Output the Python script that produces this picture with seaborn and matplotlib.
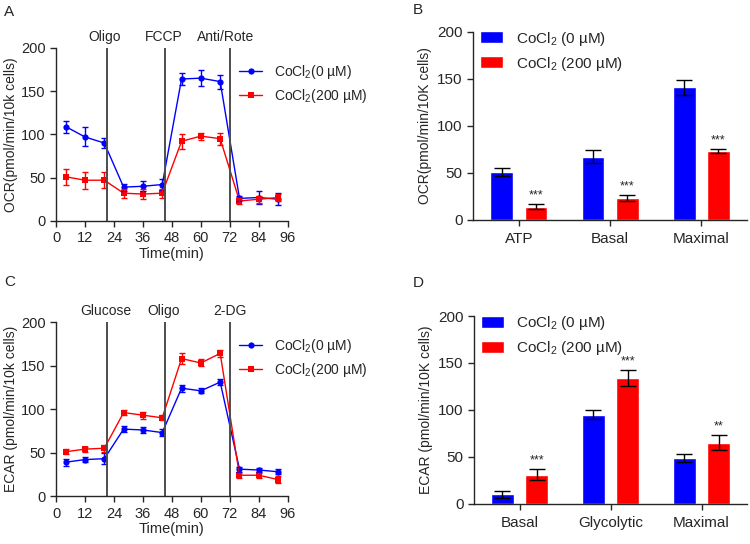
import numpy as np
import pandas as pd
import matplotlib
matplotlib.use("Agg")
import matplotlib.pyplot as plt
import seaborn as sns

# --- data ---
time_min = [4, 12, 20, 28, 36, 44, 52, 60, 68, 76, 84, 92]

ocr_ctrl = [109, 97, 90, 39, 40, 42, 164, 165, 161, 26, 27, 25]
ocr_ctrl_err = [7, 11, 6, 4, 6, 6, 7, 9, 8, 3, 7, 7]
ocr_cocl = [51, 47, 47, 32, 31, 32, 92, 98, 95, 23, 25, 27]
ocr_cocl_err = [9, 10, 9, 5, 6, 5, 9, 4, 7, 4, 4, 4]

ecar_ctrl = [39, 42, 43, 77, 76, 73, 124, 121, 131, 31, 30, 28]
ecar_ctrl_err = [4, 3, 6, 3, 3, 4, 4, 3, 3, 3, 2, 3]
ecar_cocl = [51, 54, 55, 96, 93, 90, 158, 153, 164, 24, 24, 19]
ecar_cocl_err = [3, 3, 4, 3, 4, 3, 6, 4, 4, 3, 3, 4]

ocr_events = [21, 45, 72]
ocr_event_names = ["Oligo", "FCCP", "Anti/Rote"]
ocr_name_x = [20.3, 44.5, 70.3]
ecar_events = [21, 45, 72]
ecar_event_names = ["Glucose", "Oligo", "2-DG"]
ecar_name_x = [20.7, 44.7, 72]

ocr_bar_cats = ["ATP", "Basal", "Maximal"]
ocr_bar_ctrl = [51, 67, 141]
ocr_bar_ctrl_err = [4, 7, 8]
ocr_bar_cocl = [14, 23, 73]
ocr_bar_cocl_err = [3, 3, 2]
ocr_bar_stars = ["***", "***", "***"]

ecar_bar_cats = ["Basal", "Glycolytic", "Maximal"]
ecar_bar_ctrl = [10, 95, 49]
ecar_bar_ctrl_err = [4, 5, 4]
ecar_bar_cocl = [31, 134, 65]
ecar_bar_cocl_err = [6, 8, 8]
ecar_bar_stars = ["***", "***", "**"]

BLUE = "#0000ff"
RED = "#ff0000"

sns.set_style("ticks")
plt.rcParams["font.family"] = ["Liberation Sans", "DejaVu Sans"]
plt.rcParams["mathtext.default"] = "regular"
plt.rcParams["axes.linewidth"] = 1.0
plt.rcParams["xtick.major.width"] = 1.0
plt.rcParams["ytick.major.width"] = 1.0
plt.rcParams["xtick.major.size"] = 4
plt.rcParams["ytick.major.size"] = 4

fig = plt.figure(figsize=(7.5, 5.44), dpi=100)

ax_a = fig.add_axes([0.0747, 0.594, 0.309, 0.318])
ax_b = fig.add_axes([0.631, 0.596, 0.365, 0.346])
ax_c = fig.add_axes([0.0747, 0.088, 0.309, 0.32])
ax_d = fig.add_axes([0.632, 0.074, 0.364, 0.345])


def line_panel(ax, ctrl, ctrl_err, cocl, cocl_err, events, names, name_x, ylabel):
    lab0 = "CoCl$_2$(0 µM)"
    lab1 = "CoCl$_2$(200 µM)"
    df = pd.DataFrame({
        "time": time_min * 2,
        "val": ctrl + cocl,
        "cond": [lab0] * len(time_min) + [lab1] * len(time_min),
    })
    sns.lineplot(data=df, x="time", y="val", hue="cond", style="cond",
                 markers={lab0: "o", lab1: "s"}, dashes=False,
                 palette={lab0: BLUE, lab1: RED}, markersize=4.5,
                 markeredgewidth=0, linewidth=1.0, ax=ax)
    ax.errorbar(time_min, ctrl, yerr=ctrl_err, fmt="none", ecolor=BLUE,
                elinewidth=1.0, capsize=2.3, capthick=1.0)
    ax.errorbar(time_min, cocl, yerr=cocl_err, fmt="none", ecolor=RED,
                elinewidth=1.0, capsize=2.3, capthick=1.0)
    for x in events:
        ax.axvline(x, color="#4d4d4d", lw=1.4)
    for x, name in zip(name_x, names):
        ax.text(x, 213, name, ha="center", va="center", fontsize=10)
    ax.set_xlim(0, 96)
    ax.set_ylim(0, 200)
    ax.set_xticks(np.arange(0, 97, 12))
    ax.set_yticks([0, 50, 100, 150, 200])
    ax.tick_params(labelsize=10.5, direction="out")
    ax.set_xlabel("Time(min)", fontsize=10.5, labelpad=1)
    ax.set_ylabel(ylabel, fontsize=10, labelpad=2)
    sns.despine(ax=ax)
    ax.legend(loc="upper left", bbox_to_anchor=(0.79, 0.915), frameon=False,
              fontsize=10, handlelength=1.65, handletextpad=0.85,
              labelspacing=0.45, borderaxespad=0, borderpad=0)


def bar_panel(ax, cats, ctrl, ctrl_err, cocl, cocl_err, stars, ylabel):
    lab0 = "CoCl$_2$ (0 µM)"
    lab1 = "CoCl$_2$ (200 µM)"
    df = pd.DataFrame({
        "cat": cats * 2,
        "val": ctrl + cocl,
        "cond": [lab0] * len(cats) + [lab1] * len(cats),
    })
    sns.barplot(data=df, x="cat", y="val", hue="cond", palette=[BLUE, RED],
                errorbar=None, width=0.75, gap=1 / 3, saturation=1, ax=ax)
    bars = ax.patches[:2 * len(cats)]
    xs = [b.get_x() + b.get_width() / 2 for b in bars]
    vals = ctrl + cocl
    errs = ctrl_err + cocl_err
    ax.errorbar(xs, vals, yerr=errs, fmt="none", ecolor="black",
                elinewidth=1.0, capsize=5.5, capthick=1.0)
    for i, s in enumerate(stars):
        j = len(cats) + i
        ax.text(xs[j], vals[j] + errs[j] + 3, s, ha="center", va="bottom",
                fontsize=9)
    ax.set_xlim(-0.5, 2.5)
    ax.set_ylim(0, 200)
    ax.set_yticks([0, 50, 100, 150, 200])
    ax.tick_params(labelsize=11, direction="out")
    ax.tick_params(axis="x", pad=5)
    ax.set_xlabel("")
    ax.set_ylabel(ylabel, fontsize=10, labelpad=4)
    sns.despine(ax=ax)
    ax.legend(loc="upper left", bbox_to_anchor=(0.026, 1.01), frameon=False,
              fontsize=11, handlelength=1.5, handleheight=0.85,
              handletextpad=0.8, labelspacing=0.45, borderaxespad=0,
              borderpad=0)


line_panel(ax_a, ocr_ctrl, ocr_ctrl_err, ocr_cocl, ocr_cocl_err,
           ocr_events, ocr_event_names, ocr_name_x, "OCR(pmol/min/10k cells)")
line_panel(ax_c, ecar_ctrl, ecar_ctrl_err, ecar_cocl, ecar_cocl_err,
           ecar_events, ecar_event_names, ecar_name_x, "ECAR (pmol/min/10k cells)")
bar_panel(ax_b, ocr_bar_cats, ocr_bar_ctrl, ocr_bar_ctrl_err, ocr_bar_cocl,
          ocr_bar_cocl_err, ocr_bar_stars, "OCR(pmol/min/10K cells)")
bar_panel(ax_d, ecar_bar_cats, ecar_bar_ctrl, ecar_bar_ctrl_err, ecar_bar_cocl,
          ecar_bar_cocl_err, ecar_bar_stars, "ECAR (pmol/min/10K cells)")

fig.text(4 / 750, 1 - 12 / 544, "A", fontsize=11, va="center")
fig.text(413 / 750, 1 - 10 / 544, "B", fontsize=11, va="center")
fig.text(4 / 750, 1 - 282 / 544, "C", fontsize=11, va="center")
fig.text(413 / 750, 1 - 283 / 544, "D", fontsize=11, va="center")

fig.savefig("out.png", dpi=100)
